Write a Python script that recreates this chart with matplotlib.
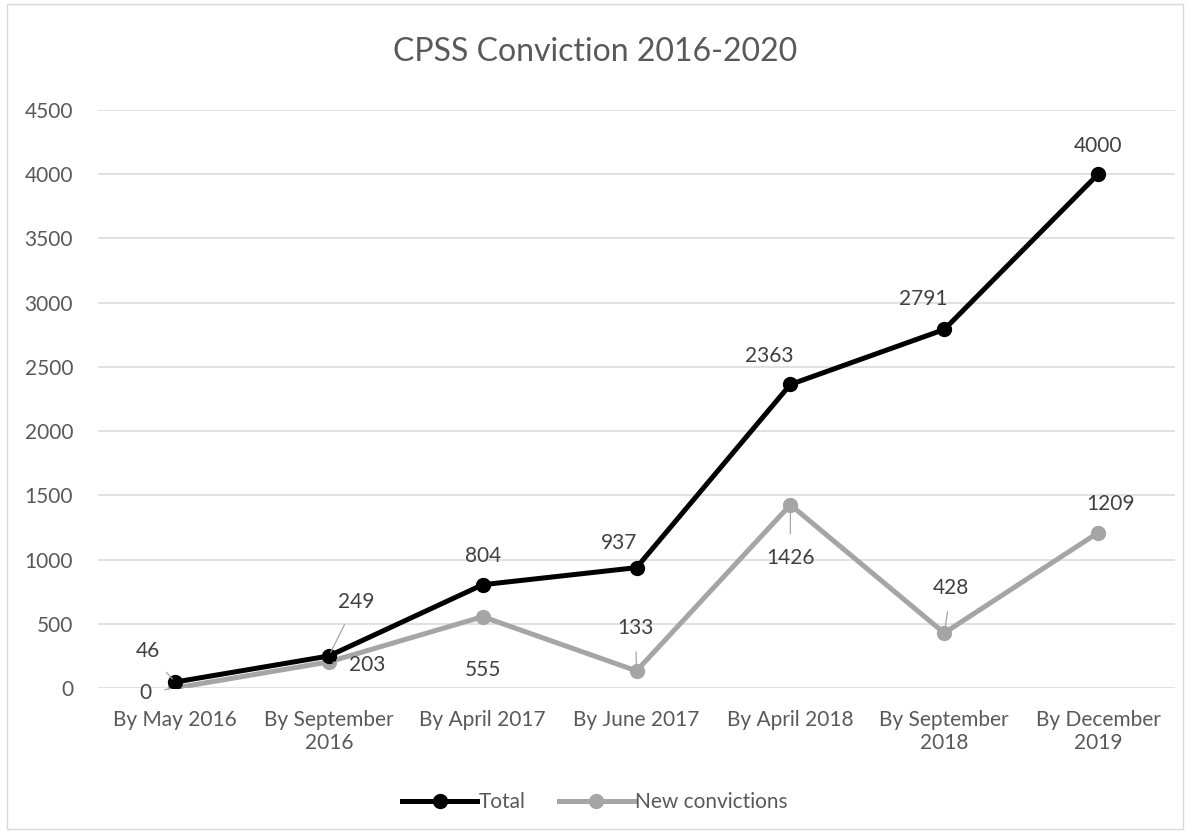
import matplotlib.pyplot as plt
from matplotlib.patches import Rectangle

plt.rcParams["font.family"] = ["Lato", "DejaVu Sans"]

# Data
periods = [
    "By May 2016",
    "By September\n2016",
    "By April 2017",
    "By June 2017",
    "By April 2018",
    "By September\n2018",
    "By December\n2019",
]
total = [46, 249, 804, 937, 2363, 2791, 4000]
new_convictions = [0, 203, 555, 133, 1426, 428, 1209]

# label offsets in pixels (dx, dy) relative to the point, and leader flag
total_offsets = [(-27, 31), (27, 54), (0, 29), (-17, 25), (-21, 28), (-21, 30), (0, 28)]
total_leaders = [True, True, False, False, False, False, False]
new_offsets = [(-30, -5), (38, -3), (0, -53), (-1, 43), (0, -53), (7, 45), (12, 29)]
new_leaders = [True, True, False, True, True, True, True]

fig = plt.figure(figsize=(11.9, 8.32), dpi=100)
ax = fig.add_axes([0.0824, 0.1731, 0.905, 0.6947])

x = list(range(len(periods)))

ax.plot(x, total, color="black", linewidth=3.6, marker="o",
        markersize=10, label="Total", zorder=3)
ax.plot(x, new_convictions, color="#a5a5a5", linewidth=3.6, marker="o",
        markersize=10, label="New convictions", zorder=2)

label_color = "#404040"


def add_labels(values, offsets, leaders):
    for i, v in enumerate(values):
        dx, dy = offsets[i]
        arrow = None
        if leaders[i]:
            arrow = dict(arrowstyle="-", color="#a6a6a6", lw=0.9,
                         shrinkA=8, shrinkB=3)
        ax.annotate(
            str(v),
            xy=(x[i], v),
            xytext=(dx, dy),
            textcoords="offset pixels",
            ha="center",
            va="center",
            fontsize=15,
            color=label_color,
            arrowprops=arrow,
            zorder=5,
        )


add_labels(total, total_offsets, total_leaders)
add_labels(new_convictions, new_offsets, new_leaders)

ax.set_xlim(-0.5, len(periods) - 0.5)
ax.set_ylim(0, 4500)
ax.set_yticks(range(0, 4501, 500))
ax.set_xticks(x)
ax.set_xticklabels(periods)

ax.grid(axis="y", color="#d9d9d9", linewidth=1.1)
ax.set_axisbelow(True)

for s in ax.spines.values():
    s.set_visible(False)

ax.tick_params(axis="both", length=0, labelsize=15, labelcolor="#595959")
ax.tick_params(axis="y", pad=18)
ax.tick_params(axis="x", pad=16)

fig.text(0.5, 0.937, "CPSS Conviction 2016-2020", ha="center",
         va="center", fontsize=23, color="#595959")

fig.legend(
    loc="center",
    bbox_to_anchor=(0.5, 0.036),
    ncol=2,
    frameon=False,
    fontsize=15,
    labelcolor="#595959",
    handlelength=3.6,
    handletextpad=0.05,
    columnspacing=1.6,
)

fig.patches.append(
    Rectangle((0.006, 0.004), 0.988, 0.991, transform=fig.transFigure,
              fill=False, edgecolor="#d9d9d9", linewidth=1)
)

fig.savefig("out.png", dpi=100)
